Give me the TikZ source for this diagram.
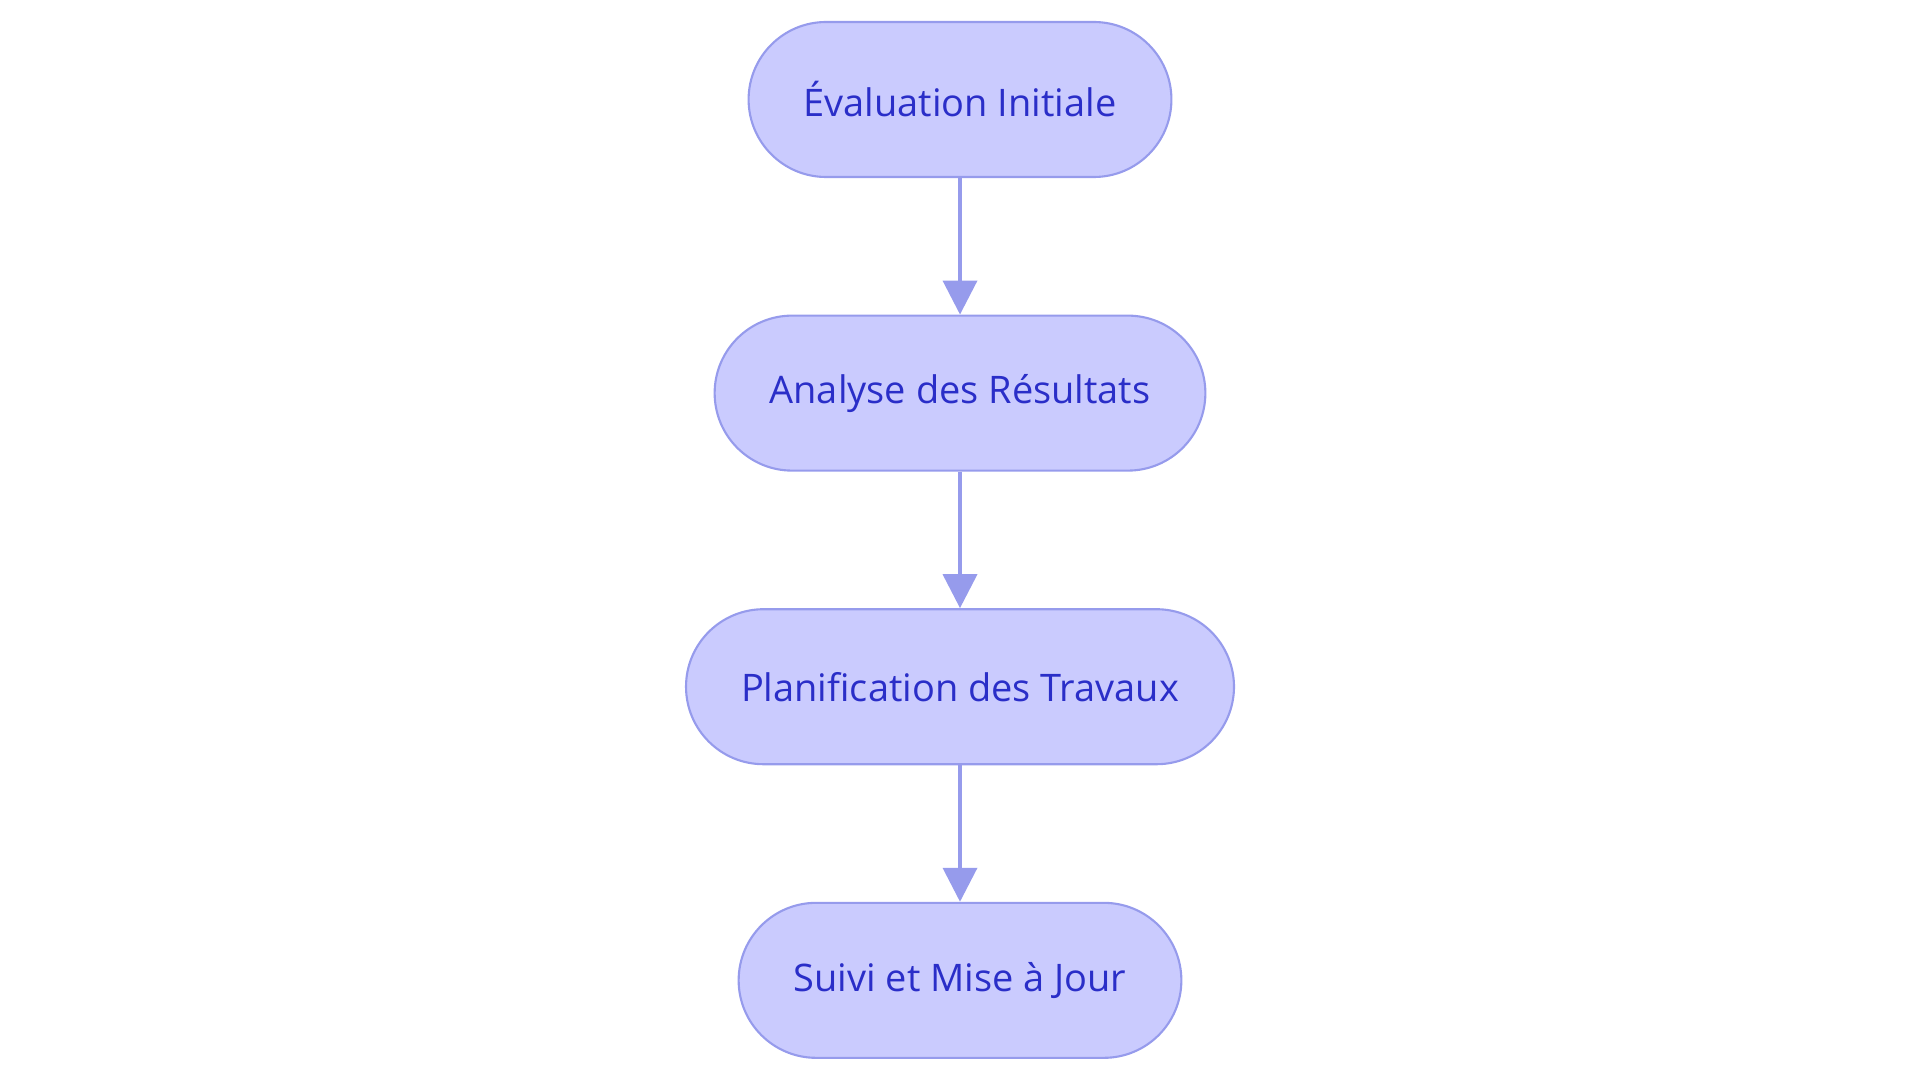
\documentclass[tikz,border=0pt]{standalone}
\usepackage{fontspec}
\setmainfont{Open Sans}
\usetikzlibrary{positioning,arrows.meta}

\definecolor{stepfill}{RGB}{202,203,254}
\definecolor{stepline}{RGB}{150,155,236}
\definecolor{steptext}{RGB}{42,46,200}

\begin{document}
\begin{tikzpicture}[
    stage/.style={draw=stepline, line width=0.6pt, fill=stepfill, text=steptext,
      rounded corners=0.775cm, minimum height=1.55cm, inner xsep=0.55cm,
      font=\fontsize{10.8}{13}\selectfont},
    flow/.style={draw=stepline, line width=1.1pt, -{Triangle[length=0.34cm, width=0.34cm]}},
    node distance=1.365cm
  ]
  \useasboundingbox (0,0) rectangle (19.2,-10.83);

  \node[stage] (eval) at (9.6,-0.995) {Évaluation Initiale};
  \node[stage, below=of eval] (analyse) {Analyse des Résultats};
  \node[stage, below=of analyse] (plan) {Planification des Travaux};
  \node[stage, below=of plan] (suivi) {Suivi et Mise à Jour};

  \draw[flow] (eval) -- (analyse);
  \draw[flow] (analyse) -- (plan);
  \draw[flow] (plan) -- (suivi);
\end{tikzpicture}
\end{document}
